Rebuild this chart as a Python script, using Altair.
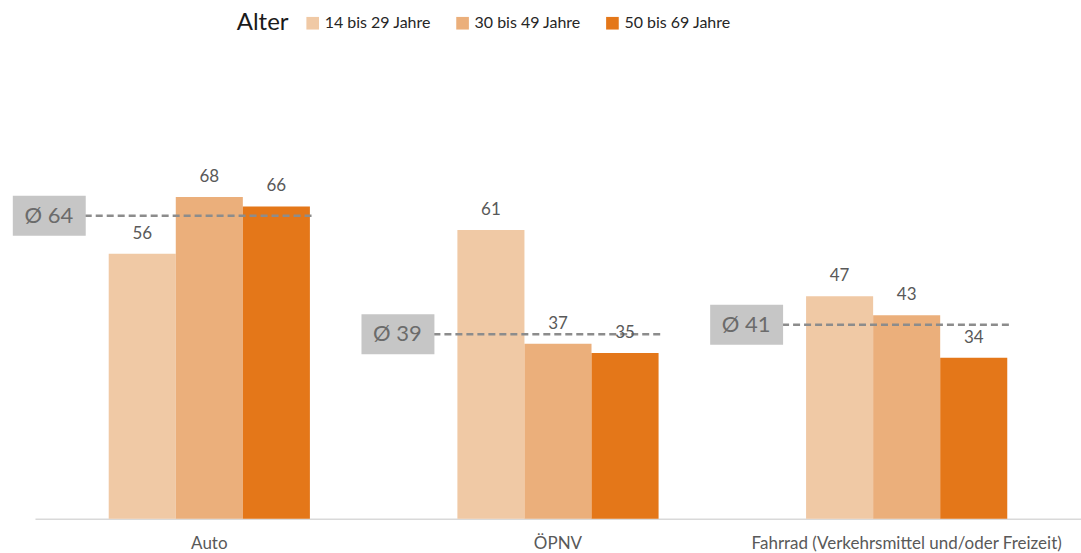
import altair as alt
import pandas as pd

categories = ["Auto", "ÖPNV", "Fahrrad (Verkehrsmittel und/oder Freizeit)"]
age_groups = ["14 bis 29 Jahre", "30 bis 49 Jahre", "50 bis 69 Jahre"]
values_14_29 = [56, 61, 47]
values_30_49 = [68, 37, 43]
values_50_69 = [66, 35, 34]
averages = [64, 39, 41]
colors = ["#F0C9A5", "#EBAF7B", "#E47719"]

rows = []
for i, c in enumerate(categories):
    for g, vals in zip(age_groups, [values_14_29, values_30_49, values_50_69]):
        rows.append({"cat": c, "age": g, "value": vals[i]})
df = pd.DataFrame(rows)
avg_df = pd.DataFrame({"cat": categories, "avg": averages,
                       "label": [f"Ø {a}" for a in averages]})

FONT = "Lato"
x_scale = alt.Scale(domain=categories, paddingInner=0.423, paddingOuter=0.2115)
y_scale = alt.Scale(domain=[0, 80], nice=False)

x_enc = alt.X("cat:N", scale=x_scale, sort=categories,
              axis=alt.Axis(title=None, labelAngle=0, ticks=False,
                            domainColor="#d9d9d9", domainWidth=1.5,
                            labelColor="#595959", labelFontSize=17,
                            labelFont=FONT, labelPadding=17, labelLimit=0))
y_enc = alt.Y("value:Q", scale=y_scale, axis=None)

bars = alt.Chart(df).mark_bar(strokeWidth=0).encode(
    x=x_enc,
    xOffset=alt.XOffset("age:N", sort=age_groups,
                        scale=alt.Scale(paddingInner=0, paddingOuter=0)),
    y=y_enc,
    color=alt.Color("age:N", sort=age_groups,
                    scale=alt.Scale(domain=age_groups, range=colors),
                    legend=alt.Legend(orient="none", legendX=202, legendY=-125,
                                      direction="horizontal", title="Alter",
                                      titleOrient="left", titleFontSize=24,
                                      titleFont=FONT, titleFontWeight="normal",
                                      titleColor="#1a1a1a", titlePadding=16,
                                      labelFont=FONT, labelFontSize=16,
                                      labelColor="#262626", symbolType="square",
                                      symbolSize=160, symbolStrokeWidth=0,
                                      symbolOpacity=1, labelOffset=4,
                                      columnPadding=23, labelLimit=0)),
)

value_labels = alt.Chart(df).mark_text(
    baseline="bottom", dy=-11, fontSize=17, font=FONT, color="#595959"
).encode(
    x=alt.X("cat:N", scale=x_scale, sort=categories),
    xOffset=alt.XOffset("age:N", sort=age_groups,
                        scale=alt.Scale(paddingInner=0, paddingOuter=0)),
    y=alt.Y("value:Q", scale=y_scale),
    text="value:Q",
)

avg_x = alt.X("cat:N", scale=x_scale, sort=categories, bandPosition=0)
avg_x2 = alt.X2("cat:N", bandPosition=0)

avg_rule = alt.Chart(avg_df).mark_rule(
    color="#8c8c8c", strokeWidth=2.5, strokeDash=[7, 4],
    xOffset=-24, x2Offset=205
).encode(x=avg_x, x2=avg_x2, y=alt.Y("avg:Q", scale=y_scale))

avg_box = alt.Chart(avg_df).mark_rect(
    color="#c6c6c6", xOffset=-96, x2Offset=-23, yOffset=-20, y2Offset=20
).encode(x=avg_x, x2=avg_x2, y=alt.Y("avg:Q", scale=y_scale),
         y2=alt.Y2("avg:Q"))

avg_text = alt.Chart(avg_df).mark_text(
    fontSize=22, font=FONT, color="#6b6b6b", dx=-60, baseline="middle",
    align="center"
).encode(x=avg_x, y=alt.Y("avg:Q", scale=y_scale), text="label:N")

chart = alt.layer(bars, avg_rule, avg_box, avg_text, value_labels).properties(
    width=1047, height=379,
    padding={"left": 35, "top": 140, "right": 0, "bottom": 34},
    autosize=alt.AutoSizeParams(type="none"),
    background="white",
).configure_view(strokeWidth=0, stroke=None)

chart.save("out.html", embed_options={"renderer": "svg", "actions": False})
